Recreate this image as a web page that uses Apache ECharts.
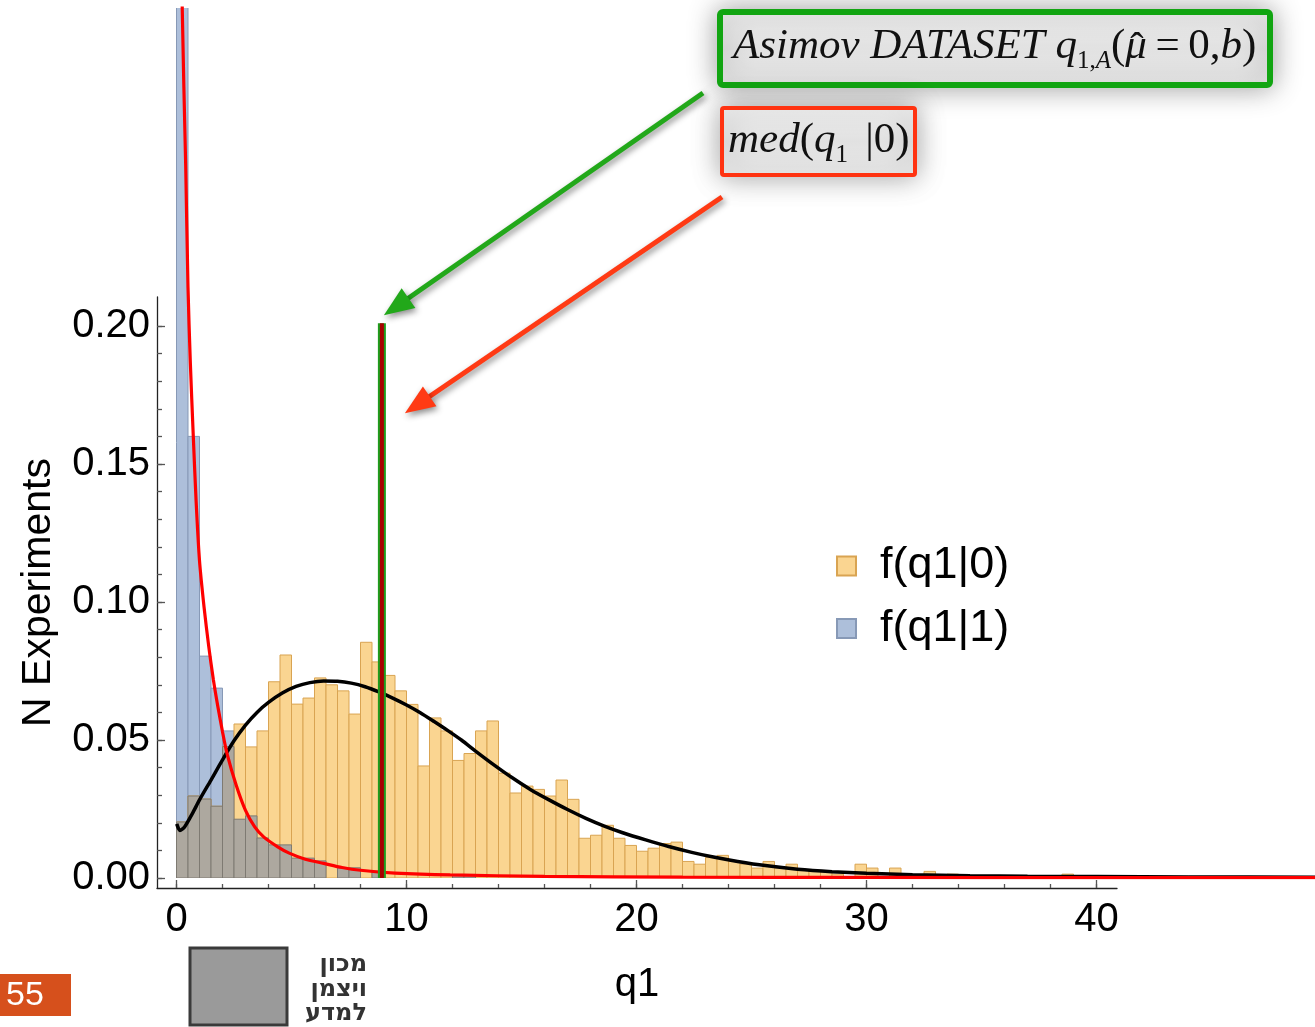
<!DOCTYPE html>
<html>
<head>
<meta charset="utf-8">
<script src="https://cdn.jsdelivr.net/npm/echarts@6.0.0/dist/echarts.min.js"></script>
<style>
  html, body { margin: 0; padding: 0; background: #fff; }
  #chart { width: 1315px; height: 1027px; }
</style>
</head>
<body>
<div id="chart"></div>
<script>
// histogram bins, width 0.5 starting at q1 = 0
const binWidth = 0.5;
const orangeHeights = [
  0.0203, 0.0297, 0.0286, 0.0260, 0.0476, 0.0558, 0.0475, 0.0533, 0.0711, 0.0808,
  0.0630, 0.0652, 0.0725, 0.0700, 0.0678, 0.0594, 0.0854, 0.0783, 0.0734, 0.0678,
  0.0629, 0.0406, 0.0580, 0.0533, 0.0426, 0.0451, 0.0533, 0.0569, 0.0380, 0.0308,
  0.0333, 0.0321, 0.0297, 0.0355, 0.0285, 0.0144, 0.0155, 0.0191, 0.0144, 0.0118,
  0.0097, 0.0108, 0.0125, 0.0130, 0.0060, 0.0050, 0.0074, 0.0082, 0.0060, 0.0050,
  0.0036, 0.0060, 0.0036, 0.0050, 0.0027, 0.0027, 0.0022, 0.0014, 0, 0.0050,
  0.0036, 0, 0.0036, 0, 0, 0.0024, 0, 0.0014, 0, 0,
  0, 0, 0, 0, 0, 0, 0, 0.0014
];
const blueHeights = [
  0.60, 0.160, 0.0804, 0.0688, 0.0533, 0.0213, 0.0225, 0.0145, 0.0120, 0.0120,
  0.0072, 0.0072, 0.0062, 0, 0.0037, 0.0037, 0, 0.0025, 0, 0,
  0, 0, 0, 0, 0.0013, 0.0013
];
// fitted curves [q1, density]
const redCurve = [
  [0.20, 0.380], [0.25, 0.315], [0.40, 0.258], [0.50, 0.214], [0.60, 0.187],
  [0.73, 0.160], [0.85, 0.137], [1.00, 0.115], [1.20, 0.098], [1.40, 0.084],
  [1.60, 0.072], [1.80, 0.062], [2.00, 0.053], [2.20, 0.045], [2.60, 0.0335],
  [3.00, 0.0245], [3.40, 0.0185], [3.80, 0.0148], [4.40, 0.0113], [4.90, 0.0090],
  [5.60, 0.0068], [6.40, 0.0053], [7.20, 0.0038], [8.00, 0.0028], [9.50, 0.0018],
  [11.9, 0.0011], [16.0, 0.0006], [22.0, 0.0003], [30.0, 0.0002], [40.0, 0.0001],
  [49.6, 0.0001]
];
const blackCurve = [
  [0.01, 0.0196], [0.15, 0.0172], [0.35, 0.0185], [0.70, 0.0235], [1.00, 0.0283],
  [1.50, 0.0355], [2.00, 0.0428], [2.50, 0.0497], [3.00, 0.0554], [3.50, 0.0600],
  [4.00, 0.0636], [4.60, 0.0670], [5.20, 0.0694], [5.80, 0.0708], [6.40, 0.0714],
  [7.00, 0.0713], [7.60, 0.0706], [8.20, 0.0693], [8.80, 0.0674], [9.40, 0.0652],
  [10.0, 0.0627], [10.6, 0.0599], [11.2, 0.0567], [11.8, 0.0534], [12.4, 0.0499],
  [13.0, 0.0460], [13.8, 0.0410], [14.6, 0.0363], [15.4, 0.0320], [16.2, 0.0283],
  [17.0, 0.0248], [17.8, 0.0216], [18.6, 0.0188], [19.4, 0.0164], [20.4, 0.0138],
  [21.4, 0.0114], [22.4, 0.0093], [23.4, 0.0075], [24.4, 0.0060], [25.6, 0.0045],
  [27.0, 0.0032], [28.5, 0.0023], [30.0, 0.0017], [32.0, 0.0012], [34.5, 0.0008],
  [37.0, 0.0006], [40.0, 0.0005], [44.0, 0.0004], [49.6, 0.0003]
];
const medianQ = 8.93;
const medianTop = 0.201;
const xTickLabels = [0, 10, 20, 30, 40];
const yTickLabels = [0, 0.05, 0.10, 0.15, 0.20];
const seriesNames = ['f(q1|0)', 'f(q1|1)'];

// layout
const W = 1315, H = 1027;
const pxQ = 23, pxY = 2760;        // pixels per unit
const x0px = 176.5, y0px = 878;    // data origin
const axLeft = 157, axRight = 1117, axTop = 297, axBottom = 888;
const SANS = '"Liberation Sans", Arial, sans-serif';
const SERIF = '"Liberation Serif", "Times New Roman", serif';

const xMinor = [];
for (let q = 0; q <= 40; q += 2) xMinor.push(q);
const yMinor = [];
for (let k = 0; k <= 20; k++) yMinor.push(+(k * 0.01).toFixed(2));

const toBins = hs => hs.map((h, i) => [i * binWidth, (i + 1) * binWidth, h]);
const overlap = orangeHeights.map((h, i) => Math.min(h, blueHeights[i] || 0));

function binRenderer(fill, stroke) {
  return function (params, api) {
    const v = api.value(2);
    if (!v) return null;
    const a = api.coord([api.value(0), 0]);
    const b = api.coord([api.value(1), v]);
    return {
      type: 'rect',
      shape: { x: a[0], y: b[1], width: b[0] - a[0], height: a[1] - b[1] },
      style: { fill: fill, stroke: stroke, lineWidth: 1 }
    };
  };
}

const ORANGE = '#FAD591', ORANGE_E = '#D9A452';
const BLUE = '#ADBFDA', BLUE_E = '#8799B6';
const GRAY = '#ADA89F', GRAY_E = '#7E7A72';

const chart = echarts.init(document.getElementById('chart'), null, { renderer: 'canvas' });

const axisLine = { show: true, onZero: false, lineStyle: { color: '#222', width: 1.3 } };
const tickStyle = { color: '#555', width: 1.3 };

chart.setOption({
  animation: false,
  backgroundColor: '#fff',
  grid: [
    { left: x0px, right: 0, top: 8, bottom: H - y0px },
    { left: axLeft, width: axRight - axLeft, top: axTop, height: axBottom - axTop }
  ],
  xAxis: [
    { gridIndex: 0, type: 'value', min: 0, max: (W - x0px) / pxQ, show: false },
    {
      gridIndex: 1, type: 'value', position: 'bottom',
      min: (axLeft - x0px) / pxQ, max: (axRight - x0px) / pxQ,
      axisLine: axisLine,
      axisTick: { show: true, inside: true, length: 8, customValues: xTickLabels, lineStyle: tickStyle },
      axisLabel: { customValues: xTickLabels, fontSize: 40, fontFamily: SANS, color: '#000', margin: 12 },
      splitLine: { show: false },
      name: 'q1', nameLocation: 'middle', nameGap: 77,
      nameTextStyle: { fontSize: 40, fontFamily: SANS, color: '#000' }
    },
    {
      gridIndex: 1, type: 'value', position: 'bottom',
      min: (axLeft - x0px) / pxQ, max: (axRight - x0px) / pxQ,
      axisLine: { show: false, onZero: false },
      axisTick: { show: true, inside: true, length: 4, customValues: xMinor, lineStyle: tickStyle },
      axisLabel: { show: false },
      splitLine: { show: false }
    }
  ],
  yAxis: [
    { gridIndex: 0, type: 'value', min: 0, max: (y0px - 8) / pxY, show: false },
    {
      gridIndex: 1, type: 'value', position: 'left',
      min: -(axBottom - y0px) / pxY, max: (y0px - axTop) / pxY,
      axisLine: axisLine,
      axisTick: { show: true, inside: true, length: 8, customValues: yTickLabels, lineStyle: tickStyle },
      axisLabel: {
        customValues: yTickLabels, fontSize: 40, fontFamily: SANS, color: '#000', margin: 7,
        formatter: v => v.toFixed(2)
      },
      splitLine: { show: false },
      name: 'N Experiments', nameLocation: 'middle', nameGap: 98, nameRotate: 90,
      nameTextStyle: { fontSize: 41, fontFamily: SANS, color: '#000' }
    },
    {
      gridIndex: 1, type: 'value', position: 'left',
      min: -(axBottom - y0px) / pxY, max: (y0px - axTop) / pxY,
      axisLine: { show: false, onZero: false },
      axisTick: { show: true, inside: true, length: 5, customValues: yMinor, lineStyle: tickStyle },
      axisLabel: { show: false },
      splitLine: { show: false }
    }
  ],
  legend: {
    left: 836, top: 543, orient: 'vertical', icon: 'rect',
    itemWidth: 19, itemHeight: 19, itemGap: 16.5, padding: 0,
    textStyle: { fontSize: 45, fontFamily: SANS, color: '#000', lineHeight: 46, padding: [0, 0, 0, 19] },
    data: seriesNames
  },
  series: [
    {
      name: seriesNames[1], type: 'custom', xAxisIndex: 0, yAxisIndex: 0, clip: true, z: 2,
      itemStyle: { color: BLUE, borderColor: BLUE_E, borderWidth: 1 },
      renderItem: binRenderer(BLUE, BLUE_E),
      encode: { x: [0, 1], y: 2 },
      data: toBins(blueHeights)
    },
    {
      name: seriesNames[0], type: 'custom', xAxisIndex: 0, yAxisIndex: 0, clip: true, z: 2,
      itemStyle: { color: ORANGE, borderColor: ORANGE_E, borderWidth: 1 },
      renderItem: binRenderer(ORANGE, ORANGE_E),
      encode: { x: [0, 1], y: 2 },
      data: toBins(orangeHeights)
    },
    {
      name: 'overlap', type: 'custom', xAxisIndex: 0, yAxisIndex: 0, clip: true, z: 3,
      renderItem: binRenderer(GRAY, GRAY_E),
      encode: { x: [0, 1], y: 2 },
      data: toBins(overlap)
    },
    {
      type: 'line', xAxisIndex: 0, yAxisIndex: 0, data: blackCurve, smooth: 0.25,
      symbol: 'none', z: 4, lineStyle: { color: '#000', width: 3.5 }
    },
    {
      type: 'line', xAxisIndex: 0, yAxisIndex: 0, data: redCurve, smooth: 0.25,
      symbol: 'none', z: 5, lineStyle: { color: '#FF0000', width: 3.2 }
    },
    {
      type: 'line', xAxisIndex: 0, yAxisIndex: 0, data: [[medianQ, 0], [medianQ, medianTop]],
      symbol: 'none', z: 6, lineStyle: { color: '#1E9E1E', width: 8, cap: 'butt' }
    },
    {
      type: 'line', xAxisIndex: 0, yAxisIndex: 0, data: [[medianQ, 0], [medianQ, medianTop]],
      symbol: 'none', z: 7, lineStyle: { color: '#A80000', width: 4, cap: 'butt' }
    }
  ]
});

// ---- annotations ----
const measureCtx = document.createElement('canvas').getContext('2d');
function fontStr(size, italic) { return (italic ? 'italic ' : '') + size + 'px ' + SERIF; }

// lay out formula fragments along a baseline: [text, size, italic, dy, centerBack]
function formula(frags, x, baseline) {
  const out = [];
  let cx = x;
  frags.forEach(f => {
    const [t, size, italic, dy, back] = f;
    measureCtx.font = fontStr(size, italic);
    const w = measureCtx.measureText(t).width;
    out.push({
      type: 'text', z: 102,
      x: back ? cx - back : cx, y: baseline + (dy || 0) - size * 0.34,
      style: { text: t, font: fontStr(size, italic), fill: '#111', verticalAlign: 'middle', align: back ? 'center' : 'left' }
    });
    if (!back) cx += w;
  });
  return out;
}

function arrow(tail, tip, color) {
  const dx = tip[0] - tail[0], dy = tip[1] - tail[1];
  const len = Math.sqrt(dx * dx + dy * dy);
  const ux = dx / len, uy = dy / len;
  const hl = 30, hw = 12;
  const bx = tip[0] - ux * hl, by = tip[1] - uy * hl;
  const shadow = { shadowBlur: 6, shadowColor: 'rgba(0,0,0,0.45)', shadowOffsetX: 2, shadowOffsetY: 3 };
  return [
    { type: 'line', z: 100, shape: { x1: tail[0], y1: tail[1], x2: bx + ux * 2, y2: by + uy * 2 },
      style: Object.assign({ stroke: color, lineWidth: 5 }, shadow) },
    { type: 'polygon', z: 100, shape: { points: [tip, [bx - uy * hw, by + ux * hw], [bx + uy * hw, by - ux * hw]] },
      style: Object.assign({ fill: color }, shadow) }
  ];
}

const lineTopPx = chart.convertToPixel({ xAxisIndex: 0, yAxisIndex: 0 }, [medianQ, medianTop]);
const lineMidPx = chart.convertToPixel({ xAxisIndex: 0, yAxisIndex: 0 }, [medianQ, 0.168]);

const boxFill = new echarts.graphic.LinearGradient(0, 0, 0, 1, [
  { offset: 0, color: '#F2F2F2' }, { offset: 0.5, color: '#E2E2E2' }, { offset: 1, color: '#EDEDED' }
]);

const greenText = formula([
  ['Asimov DATASET ', 43, true, 0],
  ['q', 43, true, 0],
  ['1,', 25, false, 9],
  ['A', 25, true, 9],
  ['(', 43, false, 0],
  ['μ', 43, true, 0],
  ['ˆ', 40, false, 2, 10],
  ['\u2009=\u20090,', 43, false, 0],
  ['b', 43, true, 0],
  [')', 43, false, 0]
], 733, 61);

const redText = formula([
  ['med', 43, true, 0],
  ['(', 43, false, 0],
  ['q', 43, true, 0],
  ['1', 25, false, 9],
  ['\u2009\u2009|', 43, false, 0],
  ['0', 43, false, 0],
  [')', 43, false, 0]
], 728, 155);

chart.setOption({
  graphic: [
    { type: 'rect', z: 101, shape: { x: 720, y: 12, width: 550, height: 73, r: 3 },
      style: { fill: boxFill, stroke: '#12A512', lineWidth: 6, shadowBlur: 28, shadowColor: 'rgba(0,0,0,0.35)' } },
    { type: 'rect', z: 101, shape: { x: 722, y: 108, width: 193, height: 67, r: 2 },
      style: { fill: boxFill, stroke: '#FF3311', lineWidth: 4, shadowBlur: 28, shadowColor: 'rgba(0,0,0,0.35)' } }
  ]
    .concat(greenText)
    .concat(redText)
    .concat(arrow([703, 93], [lineTopPx[0] + 2, lineTopPx[1] - 8], '#22A81A'))
    .concat(arrow([722, 197], [lineMidPx[0] + 23, lineMidPx[1] - 1], '#FF3A14'))
    .concat([
      { type: 'rect', shape: { x: 0, y: 974, width: 71, height: 42 }, style: { fill: '#D6501C' } },
      { type: 'text', x: 6, y: 996, style: { text: '55', font: '34px ' + SANS, fill: '#fff', verticalAlign: 'middle' } },
      { type: 'rect', shape: { x: 190, y: 948, width: 97, height: 77 },
        style: { fill: '#9A9A9A', stroke: '#3A3A3A', lineWidth: 3 } },
      { type: 'text', x: 367, y: 965, style: { text: 'מכון', font: 'bold 24px "DejaVu Sans", sans-serif', fill: '#333', align: 'right', verticalAlign: 'middle' } },
      { type: 'text', x: 367, y: 990, style: { text: 'ויצמן', font: 'bold 24px "DejaVu Sans", sans-serif', fill: '#333', align: 'right', verticalAlign: 'middle' } },
      { type: 'text', x: 367, y: 1014, style: { text: 'למדע', font: 'bold 24px "DejaVu Sans", sans-serif', fill: '#333', align: 'right', verticalAlign: 'middle' } }
    ])
});
</script>
</body>
</html>
